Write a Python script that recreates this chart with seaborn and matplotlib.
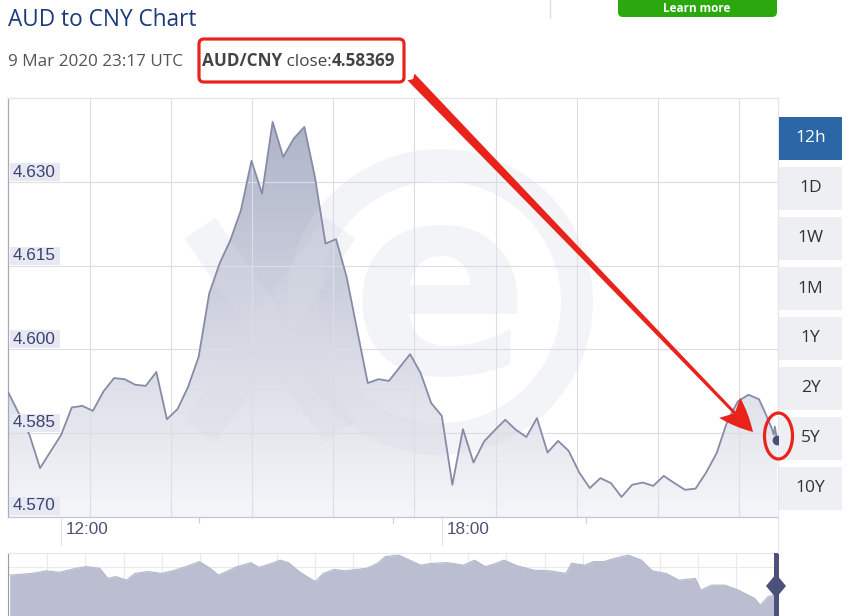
import matplotlib
matplotlib.use("Agg")
import numpy as np
import pandas as pd
import matplotlib.pyplot as plt
import matplotlib.patches as mpatches
from matplotlib.lines import Line2D
from matplotlib.transforms import IdentityTransform
from matplotlib.colors import LinearSegmentedColormap
import seaborn as sns

# ---------------------------------------------------------------------------
# data
# ---------------------------------------------------------------------------
times = ["11:10", "11:30", "11:40",
         "12:00", "12:10", "12:20", "12:30", "12:40", "12:50",
         "13:00", "13:10", "13:20", "13:30", "13:40", "13:50",
         "14:00", "14:10", "14:20", "14:30", "14:40", "14:50",
         "15:00", "15:10", "15:20", "15:30", "15:40", "15:50",
         "16:00", "16:10", "16:20", "16:30", "16:40", "16:50",
         "17:00", "17:10", "17:20", "17:30", "17:40", "17:50",
         "18:00", "18:10", "18:20", "18:30", "18:40", "18:50",
         "19:00", "19:10", "19:20", "19:30", "19:40", "19:50",
         "20:00", "20:10", "20:20", "20:30", "20:40", "20:50",
         "21:00", "21:10", "21:20", "21:30", "21:40", "21:50",
         "22:00", "22:10", "22:20", "22:30", "22:40", "22:50",
         "23:00", "23:06", "23:12", "23:14", "23:15", "23:17"]
rates = [4.5922, 4.5846, 4.5786,
         4.5846, 4.5895, 4.5898, 4.5889, 4.5924, 4.5948,
         4.5946, 4.5936, 4.5934, 4.5959, 4.5874, 4.5892,
         4.5932, 4.5986, 4.6100, 4.6155, 4.6196, 4.6250,
         4.6339, 4.6280, 4.6409, 4.6346, 4.6379, 4.6400,
         4.6310, 4.6190, 4.6198, 4.6130, 4.6034, 4.5939,
         4.5946, 4.5943, 4.5967, 4.5991, 4.5957, 4.5903,
         4.5880, 4.5756, 4.5856, 4.5796, 4.5834, 4.5854,
         4.5873, 4.5855, 4.5842, 4.5876, 4.5814, 4.5835,
         4.5817, 4.5778, 4.5750, 4.5768, 4.5759, 4.5734,
         4.5756, 4.5760, 4.5754, 4.5772, 4.5759, 4.5747,
         4.5749, 4.5778, 4.5813, 4.5870, 4.5906, 4.5918,
         4.5910, 4.5885, 4.5858, 4.5846, 4.5861, 4.58369]

y_ticks = [4.570, 4.585, 4.600, 4.615, 4.630]
x_labels = ["12:00", "18:00"]
ranges = ["12h", "1D", "1W", "1M", "1Y", "2Y", "5Y", "10Y"]

# navigator (longer history strip under the chart)
nav_day = [0.8, 11.5, 18.0, 24.4, 32.1, 37.2, 43.6, 47.4, 51.3, 56.4,
           60.3, 66.6, 73.1, 78.2, 84.6, 91.0, 96.1, 100.0, 103.8, 108.9,
           115.4, 119.2, 124.3, 129.4, 133.3, 138.4, 143.5, 146.1, 149.9, 155.0,
           160.2, 165.3, 170.5, 175.6, 179.4, 185.8, 190.9, 196.1, 201.2, 208.8,
           216.5, 221.7, 226.8, 231.9, 235.7, 242.2, 249.9, 257.6, 265.2, 267.8,
           274.2, 278.1, 283.2, 288.3, 294.7, 301.1, 306.2, 312.7, 319.0, 326.7,
           329.3, 334.4, 340.8, 347.2, 354.9, 357.5, 361.3, 363.9]
nav_rate = [4.638, 4.643, 4.650, 4.646, 4.657, 4.662, 4.657, 4.629, 4.634, 4.624,
            4.643, 4.648, 4.643, 4.650, 4.662, 4.676, 4.657, 4.638, 4.648, 4.662,
            4.673, 4.660, 4.669, 4.680, 4.673, 4.648, 4.629, 4.620, 4.643, 4.654,
            4.650, 4.654, 4.657, 4.671, 4.690, 4.694, 4.680, 4.666, 4.671, 4.673,
            4.666, 4.680, 4.662, 4.671, 4.680, 4.664, 4.652, 4.650, 4.643, 4.671,
            4.666, 4.676, 4.676, 4.685, 4.694, 4.680, 4.650, 4.643, 4.624, 4.629,
            4.596, 4.610, 4.610, 4.596, 4.573, 4.554, 4.578, 4.582]

# ---------------------------------------------------------------------------
W, H = 847, 616
RED = "#e8231c"
NAVY = "#4a4f78"
WM = "#d9dbe5"   # watermark tint


def fx(px):
    return px / W


def fy(py):
    return 1 - py / H


def to_hours(t):
    h, m = t.split(":")
    return int(h) + int(m) / 60


df = pd.DataFrame({"hour": [to_hours(t) for t in times], "rate": rates})
df_nav = pd.DataFrame({"day": nav_day, "rate": nav_rate})

sns.set_style("white")
plt.rcParams["font.family"] = ["Open Sans", "DejaVu Sans"]

fig = plt.figure(figsize=(W / 100, H / 100), dpi=100)
px = IdentityTransform()

# --- main chart ------------------------------------------------------------
ax = fig.add_axes([fx(8), 1 - 517 / H, (778 - 8) / W, (517 - 98) / H])
x0, x1 = to_hours("11:10") - 0.005, 23.30
y0, y1 = 4.5698, 4.6452

cmap = LinearSegmentedColormap.from_list("xe", ["#f5f6f9", "#aab0c6"])
area = ax.fill_between(df["hour"], df["rate"], y0, color="none", lw=0)
grad = np.linspace(0, 1, 256).reshape(-1, 1)
img = ax.imshow(grad, cmap=cmap, aspect="auto", origin="lower",
                extent=[x0, x1, y0, y1], zorder=1)
img.set_clip_path(area.get_paths()[0], transform=ax.transData)

sns.lineplot(data=df, x="hour", y="rate", ax=ax, color="#878ba7",
             linewidth=1.3, zorder=5, sort=False)
ax.plot(df["hour"].iloc[-1], df["rate"].iloc[-1], "o", color=NAVY,
        markersize=6, zorder=6, clip_on=False)

ax.set_xlim(x0, x1)
ax.set_ylim(y0, y1)

# grid
for v in y_ticks[1:]:
    ax.axhline(v, color="#dddde6", lw=0.8, zorder=2)
grid_start, grid_step = to_hours("11:10") + 77.3 / 60, 76.7 / 60
for k in range(9):
    ax.axvline(grid_start + k * grid_step, color="#dddde6", lw=0.8, zorder=2)

ax.set_xticks([12, 18])
ax.set_xticks([14.18, 17.23, 20.27], minor=True)
ax.set_xticklabels([])
ax.set_yticks([])
ax.tick_params(axis="x", which="major", length=20, width=0.8,
               color="#e2e2ea", direction="out", bottom=True)
ax.tick_params(axis="x", which="minor", length=4, width=0.8,
               color="#c9cbdd", direction="out", bottom=True)
for side, c in [("left", "#a9a9b2"), ("bottom", "#c3c6da"),
                ("top", "#e4e4ea"), ("right", "#e4e4ea")]:
    ax.spines[side].set_color(c)
    ax.spines[side].set_linewidth(0.9)
ax.set_xlabel("")
ax.set_ylabel("")

# xe watermark (under the line, very faint)
ax.add_patch(mpatches.Circle((440, H - 302), 137, fill=False, lw=23,
                             ec=WM, alpha=0.3, transform=px, zorder=3))
for (xa, ya), (xb, yb) in [((200, 228), (340, 432)), ((340, 228), (200, 432))]:
    ax.add_line(Line2D([xa, xb], [H - ya, H - yb], lw=27, color=WM,
                       alpha=0.3, transform=px, zorder=3,
                       solid_capstyle="butt"))
ax.text(440, H - 300, "e", transform=px, fontsize=190, fontweight="bold",
        color=WM, alpha=0.3, ha="center", va="center", zorder=3,
        family=["DejaVu Sans"])

# y labels with light boxes inside the plot
for v in y_ticks:
    yp = ax.transData.transform((x0, v))[1]
    ax.add_patch(mpatches.Rectangle((10, yp + 1), 50, 18, transform=px,
                                    fc="#e6e8f2", ec="none", zorder=7,
                                    clip_on=False))
    ax.text(13, yp + 10, f"{v:.3f}", transform=px, fontsize=12.3,
            color="#3d4270", ha="left", va="center", zorder=8,
            family=["Liberation Sans", "DejaVu Sans"])

# x labels to the right of their ticks
for lab in x_labels:
    xp = ax.transData.transform((to_hours(lab), y0))[0]
    ax.text(xp + 5, H - 530, lab, transform=px, fontsize=12.3,
            color="#4d5170", ha="left", va="center",
            family=["Liberation Sans", "DejaVu Sans"])

fig.add_artist(Line2D([778, 778], [H - 517, H - 553], color="#e4e4ea",
                      lw=0.9, transform=px))

# --- navigator -------------------------------------------------------------
nav = fig.add_axes([fx(8), 0, (778 - 8) / W, (616 - 553) / H])
nav.fill_between(df_nav["day"], df_nav["rate"], 4.50, color="#babed0", lw=0)
sns.lineplot(data=df_nav, x="day", y="rate", ax=nav, color="#b3b7ca",
             linewidth=0.8)
nav.set_xlim(0, 366)
nav.set_ylim(4.5236, 4.70)
nav.set_xticks(np.arange(18.5, 366, 18.2))
nav.set_yticks([4.6608])
nav.grid(True, color="#e8e8ee", lw=0.8)
nav.set_axisbelow(True)
nav.tick_params(length=0, labelbottom=False, labelleft=False)
nav.set_xlabel("")
nav.set_ylabel("")
nav.spines["left"].set_color("#9a9aa4")
nav.spines["top"].set_color("#e6e6ec")
nav.spines["right"].set_visible(False)
nav.spines["bottom"].set_visible(False)

fig.add_artist(mpatches.Rectangle((773.5, 0), 5, H - 553, transform=px,
                                  fc="#4b5179", ec="none"))
fig.add_artist(mpatches.Polygon([(776, H - 574), (786, H - 586),
                                 (776, H - 598), (766, H - 586)],
                                transform=px, fc="#4b5179", ec="none"))

# --- range buttons ---------------------------------------------------------
for i, lab in enumerate(ranges):
    top = 117 + 50 * i
    active = i == 0
    fig.add_artist(mpatches.Rectangle((779, H - top - 43), 63, 43,
                                      transform=px, ec="none",
                                      fc="#2b66a6" if active else "#eeeff2"))
    fig.text(fx(810.5), fy(top + 21.5), lab, fontsize=12.5,
             color="white" if active else "#333333", ha="center", va="center")

# --- header ----------------------------------------------------------------
fig.text(fx(8), fy(26), "AUD to CNY Chart", fontsize=16.3, color="#1d3b7b",
         va="baseline")
fig.text(fx(8), fy(66.5), "9 Mar 2020 23:17 UTC", fontsize=12.3,
         color="#555555", va="baseline")
renderer = fig.canvas.get_renderer()
xpos = 202
for s, w in [("AUD/CNY", "bold"), (" close:", "normal"), ("4.58369", "bold")]:
    t = fig.text(fx(xpos), fy(66.5), s, fontsize=12.3, fontweight=w,
                 color="#444444", va="baseline")
    xpos += t.get_window_extent(renderer).width

fig.add_artist(Line2D([550, 550], [H, H - 18], color="#dddddd", lw=1,
                      transform=px))
fig.add_artist(mpatches.FancyBboxPatch((618, H - 17), 159, 30,
                                       boxstyle="round,pad=0,rounding_size=5",
                                       transform=px, fc="#2aa80e", ec="none"))
fig.text(fx(697), fy(8.5), "Learn more", fontsize=8.5, fontweight="bold",
         color="white", ha="center", va="center")

# --- red annotations -------------------------------------------------------
fig.add_artist(mpatches.FancyBboxPatch((199, H - 82), 205, 43,
                                       boxstyle="round,pad=0,rounding_size=5",
                                       transform=px, fc="none", ec=RED, lw=2.3))
fig.add_artist(mpatches.FancyArrowPatch(
    (411, H - 77), (753, H - 432), transform=px,
    arrowstyle=mpatches.ArrowStyle.Fancy(head_length=1.1, head_width=0.95,
                                         tail_width=0.32),
    mutation_scale=22, color=RED, lw=0, shrinkA=0, shrinkB=0))
fig.add_artist(mpatches.Ellipse((778.5, H - 436), 28, 46, transform=px,
                                fc="none", ec=RED, lw=2.3))

fig.savefig("out.png", dpi=100)
